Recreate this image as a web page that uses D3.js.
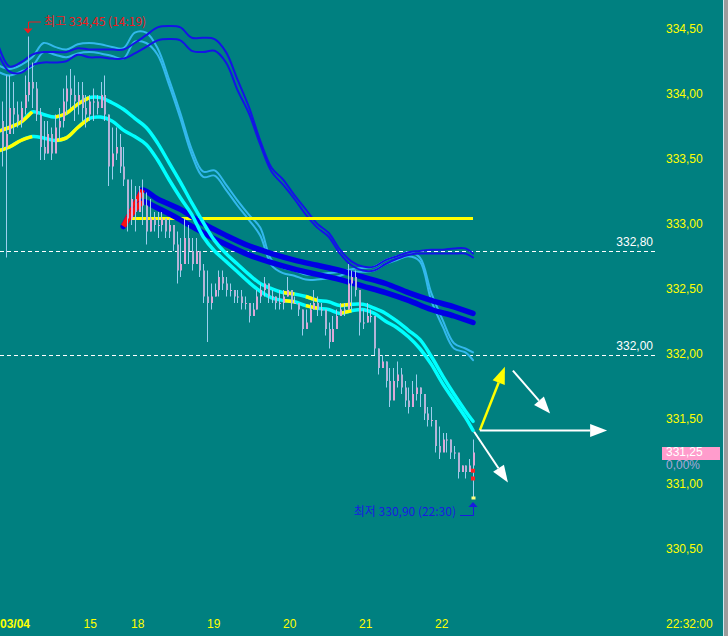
<!DOCTYPE html>
<html><head><meta charset="utf-8">
<script src="https://cdn.jsdelivr.net/npm/d3@7"></script>
<style>html,body{margin:0;padding:0;background:#008080;}svg{display:block}</style>
</head><body>
<svg id="c" width="728" height="636"></svg>
<script>
// ---------- DATA ----------
const priceTicks = [334.5, 334.0, 333.5, 333.0, 332.5, 332.0, 331.5, 331.0, 330.5];
const timeTickLabels = ["03/04", "15", "18", "19", "20", "21", "22"];
const timeTickBars = [0.5, 22.5, 35, 55, 75, 95, 115];
const lastTimeLabel = "22:32:00";
const refLevels = [332.80, 332.00];
const flatLevel = 333.05;
const flatRange = [34, 125];
const currentPrice = 331.25;
const changePct = 0.00;
const highName = "최고", highTime = "14:19";
const lowName = "최저", lowTime = "22:30";

const firstOpen = 333.80;
const barHigh = [333.95,334.15,334.15,334.10,333.95,333.95,334.15,334.45,334.25,334.10,
333.90,333.80,333.80,333.75,333.85,333.90,334.05,334.15,334.20,334.15,
334.10,334.10,334.00,334.00,334.05,334.00,334.10,334.15,333.85,333.75,
333.75,333.70,333.60,333.30,333.35,333.30,333.30,333.35,333.25,333.20,
333.10,333.10,333.10,333.05,333.05,333.00,332.95,332.90,333.05,333.00,
332.90,332.90,332.80,332.70,332.65,332.55,332.55,332.65,332.65,332.60,
332.55,332.50,332.50,332.50,332.45,332.40,332.40,332.50,332.55,332.60,
332.55,332.50,332.45,332.50,332.50,332.60,332.50,332.45,332.40,332.35,
332.35,332.40,332.50,332.45,332.40,332.30,332.25,332.30,332.35,332.40,
332.40,332.70,332.65,332.65,332.50,332.35,332.40,332.35,332.25,332.05,
332.00,331.95,331.90,331.90,331.95,331.90,331.80,331.75,331.80,331.85,
331.75,331.65,331.60,331.60,331.50,331.45,331.40,331.40,331.35,331.30,
331.20,331.15,331.15,331.20,331.35];
const barLow = [333.45,332.75,333.75,333.70,333.75,333.75,333.85,333.95,333.90,333.80,
333.50,333.50,333.55,333.50,333.60,333.65,333.75,333.85,333.90,333.80,
333.85,333.80,333.75,333.80,333.80,333.85,333.90,333.80,333.30,333.35,
333.50,333.40,333.30,332.95,333.00,332.95,333.10,333.00,332.85,332.95,
332.95,332.90,332.95,332.90,332.90,332.80,332.55,332.60,332.75,332.70,
332.65,332.70,332.60,332.40,332.10,332.35,332.45,332.45,332.50,332.45,
332.45,332.40,332.40,332.35,332.35,332.25,332.30,332.35,332.40,332.45,
332.40,332.40,332.35,332.35,332.35,332.45,332.35,332.40,332.30,332.15,
332.20,332.30,332.35,332.30,332.30,332.15,332.05,332.10,332.20,332.30,
332.30,332.35,332.35,332.45,332.15,332.20,332.25,332.25,332.00,331.85,
331.90,331.75,331.60,331.70,331.75,331.70,331.60,331.55,331.60,331.65,
331.60,331.50,331.45,331.45,331.25,331.20,331.30,331.25,331.20,331.20,
331.05,331.10,331.05,331.10,330.90];
const barClose = [333.60,333.70,333.90,333.85,333.80,333.90,334.00,334.10,334.05,333.85,
333.60,333.55,333.70,333.55,333.75,333.80,333.95,334.05,334.00,333.95,
334.00,333.90,333.85,333.95,333.95,333.90,334.00,333.85,333.45,333.55,
333.60,333.45,333.35,333.05,333.20,333.10,333.25,333.15,332.95,333.05,
333.00,333.00,333.05,332.95,333.00,332.85,332.65,332.70,332.90,332.80,
332.70,332.80,332.65,332.45,332.40,332.45,332.50,332.60,332.55,332.50,
332.50,332.45,332.45,332.40,332.40,332.30,332.35,332.45,332.50,332.55,
332.45,332.45,332.40,332.40,332.45,332.50,332.40,332.40,332.35,332.20,
332.25,332.35,332.40,332.35,332.35,332.20,332.10,332.20,332.30,332.35,
332.35,332.55,332.60,332.50,332.25,332.25,332.30,332.30,332.05,331.90,
331.95,331.80,331.65,331.80,331.85,331.75,331.65,331.60,331.70,331.75,
331.70,331.55,331.50,331.50,331.30,331.25,331.35,331.35,331.25,331.25,
331.10,331.15,331.10,331.15,331.25];

// indicator lines, sampled at these bar positions
const lineK = [0,3,6,9,12,15,18,21,24,27,30,33,36,39,42,45,48,51,54,57,60,63,66,69,72,75,78,81,84,87,90,93,96,99,102,105,108,111,114,117,120,123,125];
const envUpper1 = [334.39,334.22,334.25,334.31,334.33,334.33,334.33,334.36,334.35,334.35,334.35,334.35,334.40,334.46,334.52,334.53,334.52,334.44,334.44,334.43,334.33,334.12,333.91,333.65,333.44,333.35,333.23,333.12,333.01,332.94,332.81,332.72,332.68,332.68,332.73,332.76,332.79,332.80,332.81,332.81,332.82,332.82,332.78];
const envUpper2 = [334.32,334.18,334.17,334.23,334.25,334.25,334.26,334.31,334.29,334.29,334.28,334.28,334.32,334.37,334.42,334.43,334.42,334.34,334.33,334.34,334.25,334.04,333.86,333.62,333.41,333.31,333.20,333.08,332.98,332.91,332.78,332.69,332.65,332.65,332.70,332.74,332.77,332.78,332.78,332.78,332.78,332.78,332.75];
const skyLine1 = [334.23,334.20,334.23,334.29,334.40,334.37,334.35,334.39,334.40,334.39,334.37,334.36,334.48,334.48,334.36,334.12,333.86,333.58,333.41,333.42,333.31,333.19,333.08,332.98,332.73,332.67,332.65,332.62,332.62,332.63,332.64,332.66,332.67,332.68,332.73,332.76,332.79,332.75,332.48,332.27,332.09,332.05,332.02];
const skyLine2 = [334.18,334.15,334.18,334.22,334.33,334.31,334.29,334.32,334.33,334.32,334.30,334.28,334.41,334.40,334.31,334.08,333.82,333.54,333.37,333.38,333.27,333.15,333.04,332.92,332.69,332.63,332.61,332.58,332.58,332.59,332.61,332.64,332.64,332.65,332.70,332.73,332.76,332.72,332.42,332.22,332.05,332.02,331.96];
const cyanLine1 = [333.72,333.75,333.79,333.87,333.85,333.83,333.86,333.93,333.98,333.98,333.94,333.89,333.82,333.75,333.63,333.48,333.33,333.17,333.02,332.88,332.78,332.70,332.62,332.55,332.51,332.48,332.47,332.45,332.42,332.41,332.38,332.39,332.39,332.36,332.32,332.26,332.19,332.12,331.99,331.84,331.70,331.57,331.49];
const cyanLine2 = [333.57,333.60,333.65,333.68,333.67,333.65,333.67,333.75,333.82,333.83,333.80,333.73,333.68,333.62,333.50,333.35,333.21,333.08,332.91,332.80,332.72,332.64,332.56,332.49,332.44,332.42,332.41,332.38,332.36,332.35,332.32,332.34,332.35,332.32,332.26,332.21,332.14,332.05,331.93,331.78,331.65,331.52,331.42];
const cyanHighlightRuns = [[0,3],[5,8],[25,26],[27,28],[30,31]];

const bandK = [33,35,37,38,42,48,54,60,66,72,78,84,90,96,102,108,114,120,125];
const bandUpper = [332.99,333.10,333.21,333.27,333.20,333.12,333.01,332.92,332.84,332.78,332.73,332.69,332.65,332.60,332.55,332.48,332.42,332.37,332.32];
const bandLower = [332.99,333.08,333.15,333.18,333.13,333.04,332.94,332.85,332.77,332.71,332.66,332.62,332.58,332.53,332.48,332.42,332.35,332.30,332.25];
const bandRiseRuns = [[0,3]];

const lastBarMarks = [331.11, 331.05];

// scenario arrows (bar position, price)
const arrowFromK = [126.8, 126.8, 125.3, 135.5];
const arrowFromP = [331.42, 331.42, 331.41, 331.88];
const arrowToK   = [133.4, 160.3, 134.2, 145.3];
const arrowToP   = [331.91, 331.42, 331.02, 331.55];

// ---------- DRAW ----------
const W = 728, H = 636;
const fmt = v => d3.format(".2f")(v).replace(".", ",");
const x = d3.scaleLinear().domain([0, 125]).range([-2, 473]);
const y = d3.scaleLinear().domain([330.5, 334.5]).range([550, 30]);

const svg = d3.select("#c");
svg.append("rect").attr("width", W).attr("height", H).attr("fill", "#008080");
svg.append("defs").append("clipPath").attr("id", "plot")
  .append("rect").attr("x", 0).attr("y", 0).attr("width", 660).attr("height", 600);
const g = svg.append("g").attr("clip-path", "url(#plot)");

// reference dashed levels
refLevels.forEach(v => {
  g.append("line").attr("x1", 0).attr("x2", 655).attr("y1", Math.round(y(v)) + 0.5).attr("y2", Math.round(y(v)) + 0.5)
    .attr("stroke", "#ffffff").attr("stroke-width", 1).attr("stroke-dasharray", "4,3");
  svg.append("text").attr("x", 653).attr("y", y(v) - 8).attr("text-anchor", "end")
    .attr("dominant-baseline", "middle").attr("fill", "#ffffff")
    .style("font", "12px 'Liberation Sans', Arial, sans-serif").text(fmt(v));
});

const lineGen = d3.line().x(d => x(d.k)).y(d => y(d.p)).curve(d3.curveCatmullRom.alpha(0.5));
function series(ks, ps, color, width, runs, runColor) {
  const pts = ks.map((k, i) => ({k, p: ps[i]}));
  g.append("path").attr("d", lineGen(pts)).attr("fill", "none").attr("stroke", color)
    .attr("stroke-width", width).attr("stroke-linejoin", "round").attr("stroke-linecap", "round");
  (runs || []).forEach(([a, b]) => {
    g.append("path").attr("d", lineGen(pts.slice(a, b + 1))).attr("fill", "none").attr("stroke", runColor)
      .attr("stroke-width", width).attr("stroke-linecap", "butt");
  });
}

series(lineK, skyLine1, "#33b8ec", 2);
series(lineK, skyLine2, "#33b8ec", 2);
series(lineK, envUpper1, "#1414e6", 2);
series(lineK, envUpper2, "#1414e6", 2);

// flat yellow level
g.append("line").attr("x1", x(flatRange[0])).attr("x2", x(flatRange[1]))
  .attr("y1", y(flatLevel)).attr("y2", y(flatLevel)).attr("stroke", "#ffff00").attr("stroke-width", 3);

series(bandK, bandUpper, "#0000e4", 5.5, bandRiseRuns, "#ff1010");
series(bandK, bandLower, "#0000e4", 5.5, bandRiseRuns, "#ff1010");
series(lineK, cyanLine1, "#00ffff", 3.5, cyanHighlightRuns, "#ffff00");
series(lineK, cyanLine2, "#00ffff", 3.5, cyanHighlightRuns, "#ffff00");

// price bars
const bars = barHigh.map((h, i) => ({k: i + 1, h, l: barLow[i], c: barClose[i], o: i ? barClose[i - 1] : firstOpen}));
g.selectAll(".wick").data(bars).join("line").attr("class", "wick")
  .attr("x1", d => Math.round(x(d.k)) + 0.5).attr("x2", d => Math.round(x(d.k)) + 0.5)
  .attr("y1", d => y(d.h)).attr("y2", d => y(d.l)).attr("stroke", "#9ccfee").attr("stroke-width", 1);
g.selectAll(".body").data(bars).join("rect").attr("class", "body")
  .attr("x", d => Math.round(x(d.k)))
  .attr("width", 2)
  .attr("y", d => y(Math.max(d.o, d.c)))
  .attr("height", d => Math.max(1, Math.abs(y(d.o) - y(d.c))))
  .attr("fill", d => d.c >= d.o ? "#dca8d8" : "#b4b4d8");

// marks on last bar
const lastK = barHigh.length;
lastBarMarks.forEach(p => {
  g.append("rect").attr("x", x(lastK) - 2).attr("y", y(p) - 2).attr("width", 4).attr("height", 4).attr("fill", "#ff2020");
});

// high / low
const hiIdx = d3.maxIndex(barHigh), loIdx = d3.minIndex(barLow);
const hx = Math.round(x(hiIdx + 1)), hy = y(barHigh[hiIdx]);
const lx = Math.round(x(loIdx + 1)), ly = y(barLow[loIdx]);
g.append("rect").attr("x", lx - 1.5).attr("y", ly - 1.5).attr("width", 4).attr("height", 3).attr("fill", "#ffff80");

// arrows
const arrowCols = ["#ffff00", "#ffffff", "#ffffff", "#ffffff"];
arrowFromK.forEach((k0, i) => {
  const x0 = x(k0), y0 = y(arrowFromP[i]), x1 = x(arrowToK[i]), y1 = y(arrowToP[i]);
  const a = Math.atan2(y1 - y0, x1 - x0), L = 17, hw = 6.5;
  const bx = x1 - L * Math.cos(a), by = y1 - L * Math.sin(a);
  g.append("line").attr("x1", x0).attr("y1", y0).attr("x2", bx).attr("y2", by)
    .attr("stroke", arrowCols[i]).attr("stroke-width", i === 0 ? 2.5 : 2);
  g.append("polygon").attr("points", [[x1, y1], [bx + hw * Math.sin(a), by - hw * Math.cos(a)], [bx - hw * Math.sin(a), by + hw * Math.cos(a)]].map(p => p.join(",")).join(" "))
    .attr("fill", arrowCols[i]);
});

// high label
const hiCol = "#ee1c1c";
svg.append("path").attr("d", `M${hx - 4.5},${hy - 8} L${hx + 4.5},${hy - 8} L${hx},${hy - 3} Z`).attr("fill", hiCol);
svg.append("path").attr("d", `M${hx + 0.5},${hy - 8} V${hy - 14.5} H${hx + 13}`).attr("fill", "none").attr("stroke", hiCol).attr("stroke-width", 1);
svg.append("text").attr("x", hx + 16).attr("y", hy - 14).attr("dominant-baseline", "middle").attr("fill", hiCol)
  .style("font", "12px 'Noto Sans CJK KR', sans-serif").text(`${highName} ${fmt(barHigh[hiIdx])} (${highTime})`);

// low label
const loCol = "#1a1ae0";
svg.append("path").attr("d", `M${lx - 4.5},${ly + 9} L${lx + 4.5},${ly + 9} L${lx},${ly + 4} Z`).attr("fill", loCol);
svg.append("path").attr("d", `M${lx + 0.5},${ly + 9} V${ly + 17.5} H${lx - 13}`).attr("fill", "none").attr("stroke", loCol).attr("stroke-width", 1);
svg.append("text").attr("x", lx - 17).attr("y", ly + 15).attr("text-anchor", "end").attr("dominant-baseline", "middle").attr("fill", loCol)
  .style("font", "12px 'Noto Sans CJK KR', sans-serif").text(`${lowName} ${fmt(barLow[loIdx])} (${lowTime})`);

// right price axis
const axFont = "12px 'Liberation Sans', Arial, sans-serif";
svg.selectAll(".ptick").data(priceTicks).join("text").attr("class", "ptick")
  .attr("x", 666).attr("y", d => y(d)).attr("dominant-baseline", "middle").attr("fill", "#ffff00")
  .style("font", axFont).text(d => fmt(d));
svg.append("text").attr("x", 666).attr("y", 625).attr("dominant-baseline", "middle").attr("fill", "#ffff00")
  .style("font", axFont).text(lastTimeLabel);

// current price
const cy = y(currentPrice);
svg.append("rect").attr("x", 662).attr("y", Math.round(cy) - 6).attr("width", 58).attr("height", 13).attr("fill", "#ff9ccc");
svg.append("text").attr("x", 666).attr("y", cy + 0.5).attr("dominant-baseline", "middle").attr("fill", "#ffffff")
  .style("font", axFont).text(fmt(currentPrice));
svg.append("text").attr("x", 666).attr("y", cy + 13).attr("dominant-baseline", "middle").attr("fill", "#a8a8d8")
  .style("font", axFont).text(fmt(changePct) + "%");

// bottom time axis
svg.selectAll(".ttick").data(timeTickLabels).join("text").attr("class", "ttick")
  .attr("x", (d, i) => Math.max(0, x(timeTickBars[i]))).attr("y", 625).attr("dominant-baseline", "middle")
  .attr("fill", "#ffff00").style("font", axFont).style("font-weight", (d, i) => i === 0 ? "bold" : "normal").text(d => d);

// right frame edge
svg.append("rect").attr("x", 723).attr("y", 0).attr("width", 1).attr("height", H).attr("fill", "#cfe8f0");
svg.append("rect").attr("x", 724).attr("y", 0).attr("width", 4).attr("height", H).attr("fill", "#9c9c9c");
</script>
</body></html>
